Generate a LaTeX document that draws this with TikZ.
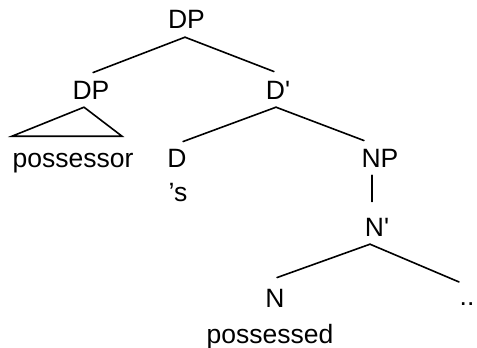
\documentclass[tikz,border=0pt]{standalone}
\usepackage{fontspec}
\setmainfont{Liberation Sans}
\begin{document}
\begin{tikzpicture}[x=1pt,y=-1pt,
  lab/.style={anchor=base,inner sep=0pt,font=\fontsize{26.5}{30}\selectfont},
  br/.style={line width=1.6pt,line cap=round,line join=miter}]
\useasboundingbox (0,0) rectangle (477,348);
\node[lab] (dp)   at (186.5,28) {DP};
\node[lab] (dpl)  at (91,99)    {DP};
\node[lab] (dbar) at (278,99)   {D\textquotesingle};
\node[lab] (poss) at (73,167)   {possessor};
\node[lab] (d)    at (177,167)  {D};
\node[lab] (s)    at (178,201)  {’s};
\node[lab] (np)   at (380,167)  {NP};
\node[lab] (nbar) at (377,236)  {N\textquotesingle};
\node[lab] (n)    at (275,307)  {N};
\node[lab] (dots) at (467,305)  {..};
\node[lab] (pd)   at (270,343)  {possessed};
% branches
\draw[br] ([xshift=-1.5,yshift=-9]dp.south) -- ([xshift=2,yshift=8]dpl.north);
\draw[br] ([xshift=-1.5,yshift=-9]dp.south) -- ([xshift=-4,yshift=9]dbar.north);
\draw[br] ([xshift=-7,yshift=-8]dpl.south) -- ++(-72,29) -- ++(110,0) -- cycle;
\draw[br] ([xshift=-2,yshift=-8]dbar.south) -- ([xshift=6,yshift=7]d.north);
\draw[br] ([xshift=-2,yshift=-8]dbar.south) -- ([xshift=-16,yshift=8]np.north);
\draw[br] ([xshift=-8,yshift=-8]np.south) -- ([xshift=-5,yshift=16]nbar.north);
\draw[br] ([xshift=-7,yshift=-8]nbar.south) -- ([xshift=2,yshift=11]n.north);
\draw[br] ([xshift=-7,yshift=-8]nbar.south) -- ([xshift=-8,yshift=20]dots.north);
\end{tikzpicture}
\end{document}
